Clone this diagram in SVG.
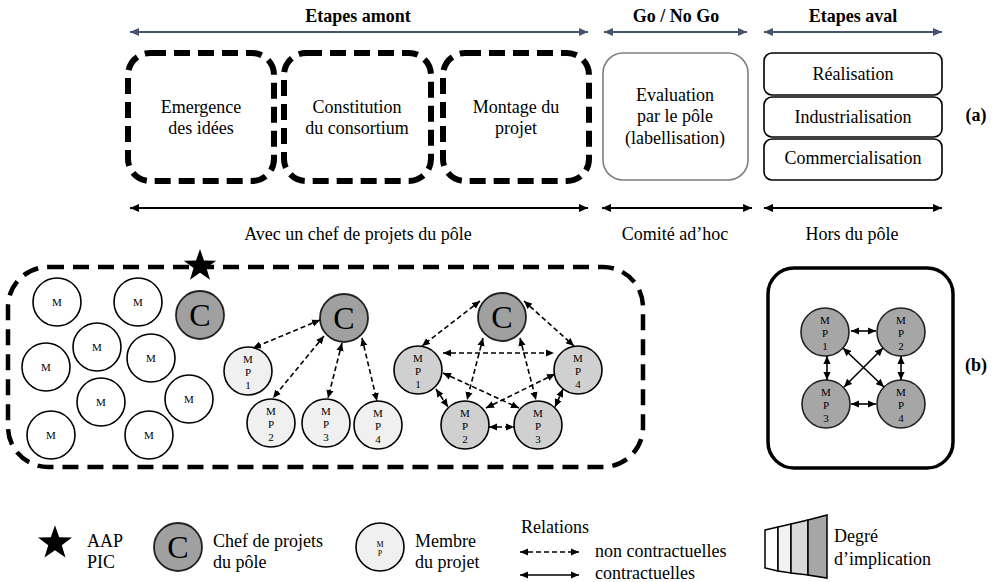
<svg xmlns="http://www.w3.org/2000/svg" width="995" height="582" viewBox="0 0 995 582">
<style>
text{font-family:"Liberation Serif","Times New Roman",serif;fill:#000}
.t18{font-size:18px;text-anchor:middle}
.b18{font-size:18px;font-weight:bold;text-anchor:middle}
.leg{font-size:18px}
.dbox{fill:#fff;stroke:#000;stroke-width:6;stroke-dasharray:16 8}
.m{fill:#fff;stroke:#000;stroke-width:1.6}
.c{fill:#a0a0a0;stroke:#222;stroke-width:1.8}
.mp1{fill:#f0f0f0;stroke:#000;stroke-width:1.6}
.mp2{fill:#d0d0d0;stroke:#000;stroke-width:1.6}
.mp3{fill:#a6a6a6;stroke:#222;stroke-width:1.6}
.sm{font-size:11px;text-anchor:middle}
.big{font-size:32px;text-anchor:middle}
.blue{stroke:#44546a;stroke-width:2;fill:none;marker-start:url(#ab);marker-end:url(#ab)}
.blk{stroke:#000;stroke-width:2;fill:none;marker-start:url(#ak);marker-end:url(#ak)}
.da{stroke:#000;stroke-width:1.6;fill:none;stroke-dasharray:5 3;marker-start:url(#as);marker-end:url(#as)}
.so{stroke:#000;stroke-width:1.6;fill:none;marker-start:url(#as);marker-end:url(#as)}
</style>
<defs>
<marker id="ab" viewBox="0 0 10 10" refX="10" refY="5" markerWidth="10" markerHeight="9" markerUnits="userSpaceOnUse" orient="auto-start-reverse"><path d="M0,0.5 L10,5 L0,9.5 Z" fill="#44546a"/></marker>
<marker id="ak" viewBox="0 0 10 10" refX="10" refY="5" markerWidth="10" markerHeight="9" markerUnits="userSpaceOnUse" orient="auto-start-reverse"><path d="M0,0.5 L10,5 L0,9.5 Z" fill="#000"/></marker>
<marker id="as" viewBox="0 0 10 10" refX="10" refY="5" markerWidth="8" markerHeight="8" markerUnits="userSpaceOnUse" orient="auto-start-reverse"><path d="M0,0.5 L10,5 L0,9.5 Z" fill="#000"/></marker>
<path id="star" d="M0,-17 L4,-5.5 L16.17,-5.25 L6.47,2.1 L9.99,13.75 L0,6.8 L-9.99,13.75 L-6.47,2.1 L-16.17,-5.25 L-4,-5.5 Z" fill="#000"/>
</defs>

<g id="headers">
<text class="b18" x="358" y="22">Etapes amont</text>
<text class="b18" x="676" y="22">Go / No Go</text>
<text class="b18" x="853" y="22">Etapes aval</text>
<text class="b18" x="976" y="121">(a)</text>
<text class="b18" x="976" y="371">(b)</text>
</g>

<g id="stage-emergence">
<rect class="dbox" x="128" y="53" width="146" height="128" rx="22"/>
<text class="t18" x="201" y="113">Emergence</text>
<text class="t18" x="201" y="134">des idées</text>
</g>
<g id="stage-constitution">
<rect class="dbox" x="284" y="53" width="147" height="128" rx="22"/>
<text class="t18" x="357" y="113">Constitution</text>
<text class="t18" x="357" y="134">du consortium</text>
</g>
<g id="stage-montage">
<rect class="dbox" x="443" y="53" width="146" height="128" rx="22"/>
<text class="t18" x="516" y="113">Montage du</text>
<text class="t18" x="516" y="134">projet</text>
</g>
<g id="stage-evaluation">
<rect x="603" y="53" width="145" height="127" rx="20" fill="#fff" stroke="#7f7f7f" stroke-width="1.6"/>
<text class="t18" x="675" y="101">Evaluation</text>
<text class="t18" x="675" y="122">par le pôle</text>
<text class="t18" x="675" y="144">(labellisation)</text>
</g>
<g id="stage-realisation">
<rect x="764" y="53" width="178" height="42" rx="8" fill="#fff" stroke="#000" stroke-width="1.6"/>
<text class="t18" x="853" y="80">Réalisation</text>
</g>
<g id="stage-industrialisation">
<rect x="764" y="97" width="178" height="40" rx="8" fill="#fff" stroke="#000" stroke-width="1.6"/>
<text class="t18" x="853" y="123">Industrialisation</text>
</g>
<g id="stage-commercialisation">
<rect x="764" y="139" width="178" height="41" rx="8" fill="#fff" stroke="#000" stroke-width="1.6"/>
<text class="t18" x="853" y="164">Commercialisation</text>
</g>

<g id="footer-labels">
<text class="t18" x="358" y="240">Avec un chef de projets du pôle</text>
<text class="t18" x="675" y="240">Comité ad’hoc</text>
<text class="t18" x="852" y="240">Hors du pôle</text>
</g>

<g id="cluster-box">
<rect x="8" y="267" width="635" height="200" rx="40" fill="none" stroke="#000" stroke-width="4.5" stroke-dasharray="16 9"/>
<use href="#star" x="200" y="266"/>
</g>

<g id="members-free">
<circle class="m" cx="57" cy="302" r="24"/><text class="sm" x="57" y="306">M</text>
<circle class="m" cx="138" cy="302" r="24"/><text class="sm" x="138" y="306">M</text>
<circle class="m" cx="97" cy="347" r="24"/><text class="sm" x="97" y="351">M</text>
<circle class="m" cx="46" cy="367" r="24"/><text class="sm" x="46" y="371">M</text>
<circle class="m" cx="151" cy="358" r="24"/><text class="sm" x="151" y="362">M</text>
<circle class="m" cx="101" cy="402" r="24"/><text class="sm" x="101" y="406">M</text>
<circle class="m" cx="189" cy="399" r="24"/><text class="sm" x="189" y="403">M</text>
<circle class="m" cx="51" cy="435" r="24"/><text class="sm" x="51" y="439">M</text>
<circle class="m" cx="149" cy="435" r="24"/><text class="sm" x="149" y="439">M</text>
</g>
<g id="chef-1"><circle class="c" cx="200" cy="315" r="24"/><text class="big" x="200" y="326">C</text></g>

<g id="chef-2"><circle class="c" cx="344" cy="318" r="24"/><text class="big" x="344" y="329">C</text></g>
<g id="g2-mp1"><circle class="mp1" cx="248" cy="371" r="24"/><text class="sm" x="248" y="363">M</text><text class="sm" x="248" y="376">P</text><text class="sm" x="248" y="389">1</text></g>
<g id="g2-mp2"><circle class="mp1" cx="271" cy="423" r="24"/><text class="sm" x="271" y="415">M</text><text class="sm" x="271" y="428">P</text><text class="sm" x="271" y="441">2</text></g>
<g id="g2-mp3"><circle class="mp1" cx="326" cy="423" r="24"/><text class="sm" x="326" y="415">M</text><text class="sm" x="326" y="428">P</text><text class="sm" x="326" y="441">3</text></g>
<g id="g2-mp4"><circle class="mp1" cx="378" cy="425" r="24"/><text class="sm" x="378" y="417">M</text><text class="sm" x="378" y="430">P</text><text class="sm" x="378" y="443">4</text></g>

<g id="chef-3"><circle class="c" cx="502" cy="317" r="24"/><text class="big" x="502" y="328">C</text></g>
<g id="g3-mp1"><circle class="mp2" cx="418" cy="370" r="24"/><text class="sm" x="418" y="362">M</text><text class="sm" x="418" y="375">P</text><text class="sm" x="418" y="388">1</text></g>
<g id="g3-mp2"><circle class="mp2" cx="465" cy="425" r="24"/><text class="sm" x="465" y="417">M</text><text class="sm" x="465" y="430">P</text><text class="sm" x="465" y="443">2</text></g>
<g id="g3-mp3"><circle class="mp2" cx="538" cy="425" r="24"/><text class="sm" x="538" y="417">M</text><text class="sm" x="538" y="430">P</text><text class="sm" x="538" y="443">3</text></g>
<g id="g3-mp4"><circle class="mp2" cx="578" cy="370" r="24"/><text class="sm" x="578" y="362">M</text><text class="sm" x="578" y="375">P</text><text class="sm" x="578" y="388">4</text></g>

<g id="panel-b-box"><rect x="768" y="268" width="185" height="200" rx="26" fill="none" stroke="#000" stroke-width="3.5"/></g>
<g id="b-mp1"><circle class="mp3" cx="825" cy="332" r="24"/><text class="sm" x="825" y="324">M</text><text class="sm" x="825" y="337">P</text><text class="sm" x="825" y="350">1</text></g>
<g id="b-mp2"><circle class="mp3" cx="901" cy="332" r="24"/><text class="sm" x="901" y="324">M</text><text class="sm" x="901" y="337">P</text><text class="sm" x="901" y="350">2</text></g>
<g id="b-mp3"><circle class="mp3" cx="826" cy="404" r="24"/><text class="sm" x="826" y="396">M</text><text class="sm" x="826" y="409">P</text><text class="sm" x="826" y="422">3</text></g>
<g id="b-mp4"><circle class="mp3" cx="901" cy="404" r="24"/><text class="sm" x="901" y="396">M</text><text class="sm" x="901" y="409">P</text><text class="sm" x="901" y="422">4</text></g>

<g id="connectors">
<line class="blue" x1="130" y1="32" x2="588" y2="32"/>
<line class="blue" x1="604" y1="32" x2="747" y2="32"/>
<line class="blue" x1="764" y1="32" x2="942" y2="32"/>
<line class="blk" x1="130" y1="208" x2="588" y2="208"/>
<line class="blk" x1="602" y1="208" x2="752" y2="208"/>
<line class="blk" x1="764" y1="208" x2="942" y2="208"/>

<line class="da" x1="320" y1="320" x2="253" y2="348"/>
<line class="da" x1="324" y1="336" x2="273" y2="398"/>
<line class="da" x1="342" y1="343" x2="328" y2="398"/>
<line class="da" x1="362" y1="338" x2="377" y2="401"/>

<line class="da" x1="480" y1="301" x2="422" y2="346"/>
<line class="da" x1="524" y1="301" x2="574" y2="346"/>
<line class="da" x1="483" y1="338" x2="467" y2="400"/>
<line class="da" x1="520" y1="338" x2="536" y2="400"/>
<line class="da" x1="443" y1="353" x2="554" y2="353"/>
<line class="da" x1="443" y1="373" x2="519" y2="408"/>
<line class="da" x1="555" y1="374" x2="486" y2="408"/>
<line class="da" x1="436" y1="389" x2="448" y2="407"/>
<line class="da" x1="489" y1="427" x2="514" y2="427"/>
<line class="da" x1="563" y1="389" x2="555" y2="407"/>

<line class="so" x1="851" y1="331" x2="876" y2="331"/>
<line class="so" x1="827" y1="356" x2="827" y2="380"/>
<line class="so" x1="901" y1="356" x2="901" y2="380"/>
<line class="so" x1="851" y1="404" x2="876" y2="404"/>
<line class="so" x1="843" y1="348" x2="884" y2="387"/>
<line class="so" x1="883" y1="348" x2="844" y2="387"/>

<line class="da" x1="520" y1="552" x2="579" y2="552"/>
<line class="so" x1="520" y1="575" x2="579" y2="575"/>
</g>

<g id="legend-star">
<use href="#star" transform="translate(55,543) scale(1.05)"/>
<text class="leg" x="87" y="547">AAP</text>
<text class="leg" x="87" y="568">PIC</text>
</g>
<g id="legend-chef">
<circle class="c" cx="178" cy="547" r="24"/><text class="big" x="178" y="558">C</text>
<text class="leg" x="213" y="547">Chef de projets</text>
<text class="leg" x="213" y="568">du pôle</text>
</g>
<g id="legend-membre">
<circle class="mp1" cx="380" cy="547" r="24"/>
<text x="380" y="547" style="font-size:8px;text-anchor:middle">M</text>
<text x="380" y="556" style="font-size:8px;text-anchor:middle">P</text>
<text class="leg" x="415" y="547">Membre</text>
<text class="leg" x="415" y="568">du projet</text>
</g>
<g id="legend-relations">
<text class="leg" x="521" y="533">Relations</text>
<text class="leg" x="595" y="557">non contractuelles</text>
<text class="leg" x="595" y="579">contractuelles</text>
</g>
<g id="legend-degre">
<polygon points="765,530 778,527 778,571 765,568" fill="#fff" stroke="#000" stroke-width="1.5"/>
<polygon points="778,527 791,524 791,573 778,571" fill="#f2f2f2" stroke="#000" stroke-width="1.5"/>
<polygon points="791,524 808,520 808,575 791,573" fill="#d9d9d9" stroke="#000" stroke-width="1.5"/>
<polygon points="808,520 827,515 827,578 808,575" fill="#a6a6a6" stroke="#000" stroke-width="1.5"/>
<text class="leg" x="834" y="542">Degré</text>
<text class="leg" x="834" y="565">d’implication</text>
</g>
</svg>
